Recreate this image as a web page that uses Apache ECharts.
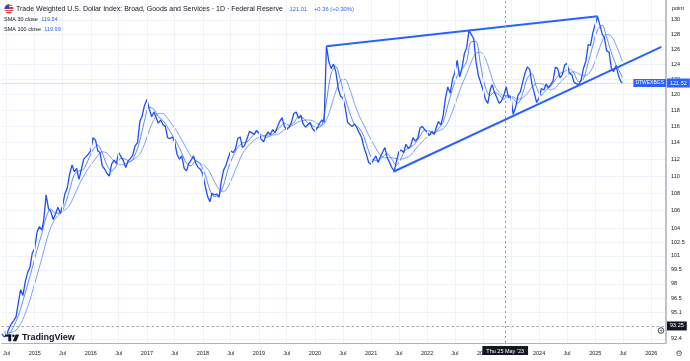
<!DOCTYPE html>
<html><head><meta charset="utf-8">
<script src="https://cdn.jsdelivr.net/npm/echarts@6/dist/echarts.min.js"></script>
<style>html,body{margin:0;padding:0;background:#fff}#c{width:690px;height:361px}</style>
</head><body><div id="c"></div>
<script>
// ---- data ----
// semi-monthly closes (1st and 16th of each month), starting June 2014
const priceStart = [2014, 6];
const price2014 = [92.9, 92.6, 92.8, 93.4, 93.9, 94.2, 94.6, 96.0, 97.4, 96.8, 98.3, 99.2, 99.8, 101.3];
const price2015 = [101.8, 103.6, 104.2, 103.8, 105.0, 107.8, 106.2, 105.9, 105.0, 105.6, 106.4, 105.7, 106.5, 107.9, 108.6, 110.2, 111.3, 110.5, 110.9, 109.6, 110.8, 112.0, 112.3, 112.6];
const price2016 = [113.0, 114.6, 114.3, 113.0, 112.8, 111.2, 110.8, 110.3, 110.0, 111.4, 111.9, 111.5, 112.8, 112.3, 111.8, 111.0, 111.8, 112.1, 112.5, 113.6, 114.0, 116.6, 117.3, 118.6];
const price2017 = [119.4, 118.2, 117.2, 117.8, 117.6, 116.4, 116.8, 116.2, 116.0, 114.6, 114.5, 114.7, 114.1, 112.6, 112.0, 112.4, 110.9, 110.6, 111.5, 111.9, 112.4, 111.5, 111.0, 110.8];
const price2018 = [110.2, 108.8, 107.6, 107.0, 108.0, 107.8, 107.9, 107.5, 109.4, 110.7, 111.3, 112.2, 113.0, 112.8, 113.2, 114.5, 114.7, 113.4, 113.7, 114.5, 115.4, 115.2, 115.0, 115.5];
const price2019 = [115.2, 114.4, 114.1, 114.9, 115.3, 115.0, 115.6, 115.2, 115.9, 116.6, 117.1, 116.0, 115.6, 115.9, 116.5, 117.6, 117.8, 117.0, 117.4, 116.3, 115.9, 116.2, 116.5, 115.7];
const price2020 = [115.4, 115.8, 116.4, 116.8, 116.5, 126.4, 124.3, 123.4, 124.0, 123.0, 120.8, 119.8, 119.6, 118.4, 116.5, 116.2, 116.0, 116.3, 115.8, 115.2, 114.6, 113.4, 112.6, 111.6];
const price2021 = [111.4, 111.9, 112.4, 111.6, 112.2, 112.8, 113.4, 112.2, 111.6, 111.0, 110.6, 111.8, 112.9, 113.1, 112.8, 113.8, 113.3, 113.6, 114.6, 114.2, 114.5, 115.8, 116.0, 115.6];
const price2022 = [115.3, 114.9, 115.4, 115.0, 115.8, 116.6, 116.2, 117.4, 119.6, 121.0, 120.2, 122.0, 122.9, 124.5, 122.3, 123.4, 125.4, 126.2, 128.5, 128.0, 127.4, 124.3, 122.5, 121.6];
const price2023 = [120.6, 119.4, 118.9, 120.6, 121.3, 120.3, 119.6, 118.9, 119.2, 119.9, 121.0, 119.6, 119.8, 117.5, 118.4, 119.9, 120.4, 121.6, 122.8, 123.6, 123.3, 121.3, 120.2, 119.0];
const price2024 = [119.6, 120.8, 120.6, 121.4, 120.9, 121.3, 121.8, 123.6, 123.4, 122.2, 122.6, 123.9, 124.1, 122.8, 122.6, 121.6, 121.4, 121.3, 121.9, 123.4, 124.4, 126.6, 126.5, 128.2];
const price2025 = [129.4, 130.5, 129.2, 128.0, 127.6, 125.8, 125.6, 123.4, 123.0, 123.8, 122.5, 121.7];
const lastClose = ['2025-06-27', 121.52];

// moving averages, mid-month values starting June 2014
const smaStart = [2014, 6];
const sma30 = [93.0, 92.9, 93.6, 94.7, 96.2, 97.9, 99.65,
  101.6, 103.35, 105.2, 106.2, 105.7, 105.7, 106.6, 108.3, 110.15, 110.6, 110.8, 111.9,
  113.1, 113.7, 112.8, 111.3, 110.6, 111.2, 112.1, 112.0, 111.7, 112.5, 114.2, 116.6,
  118.4, 118.15, 117.25, 116.75, 115.9, 114.95, 114.0, 112.8, 111.5, 111.2, 111.8, 111.4,
  110.2, 108.4, 107.6, 107.8, 108.9, 110.9, 112.3, 113.4, 113.95, 114.1, 114.7, 115.3,
  115.0, 114.65, 114.8, 115.3, 115.8, 116.4, 116.15, 116.4, 117.2, 117.1, 116.45, 116.1,
  115.85, 116.1, 119.0, 122.7, 123.7, 121.9, 119.65, 117.7, 116.25, 115.8, 114.75, 113.05,
  111.9, 111.85, 112.25, 112.65, 112.05, 111.25, 112.1, 113.15, 113.4, 113.9, 114.8, 115.5,
  115.45, 115.15, 115.7, 116.5, 118.55, 120.7, 122.4, 123.3, 124.3, 127.0, 127.05, 123.95,
  121.0, 119.9, 120.3, 120.0, 119.4, 119.9, 119.5, 118.9, 120.1, 122.1, 122.75, 120.95,
  119.9, 120.6, 121.05, 121.9, 122.75, 123.0, 123.35, 122.8, 121.7, 122.0, 124.1, 126.4,
  128.6, 129.25, 127.65, 125.6, 123.95, 122.75];
const sma30Last = 122.2;
const sma100 = [93.16, 93.04, 93.12, 93.51, 94.34, 95.59, 97.11,
  98.85, 100.64, 102.46, 104.1, 105.11, 105.69, 106.05, 106.57, 107.69, 108.91, 109.96, 110.87,
  111.61, 112.4, 112.9, 112.74, 112.11, 111.48, 111.31, 111.48, 111.74, 112.07, 112.58, 113.74,
  115.42, 116.83, 117.6, 117.63, 117.01, 116.21, 115.39, 114.4, 113.29, 112.36, 111.83, 111.49,
  111.17, 110.46, 109.41, 108.5, 108.17, 108.79, 109.98, 111.37, 112.64, 113.43, 114.03, 114.5,
  114.77, 114.91, 114.94, 114.94, 115.14, 115.58, 115.91, 116.19, 116.54, 116.73, 116.8, 116.72,
  116.38, 116.12, 116.77, 118.42, 120.38, 121.83, 121.98, 120.73, 118.86, 117.35, 116.13, 114.97,
  113.88, 112.88, 112.25, 112.15, 112.19, 112.05, 112.01, 112.14, 112.47, 113.14, 113.81, 114.39,
  114.91, 115.21, 115.44, 115.7, 116.48, 117.86, 119.54, 121.23, 122.68, 124.26, 125.42, 125.59,
  124.76, 122.98, 121.28, 120.3, 119.89, 119.91, 119.71, 119.43, 119.59, 120.14, 120.96, 121.47,
  121.43, 121.05, 120.63, 120.86, 121.58, 122.18, 122.76, 122.98, 122.72, 122.46, 122.64, 123.56,
  125.28, 127.09, 127.99, 127.78, 126.61, 124.99];
const sma100Last = 124.3;

// drawn trend lines [date, value]
const trendTop = [['2020-03-16', 126.4], ['2025-01-16', 130.5]];
const trendLow = [['2021-05-26', 110.5], ['2026-03-08', 126.3]];

// crosshair
const crossDate = '2023-05-25', crossDateLabel = "Thu 25 May '23", crossValue = 93.25;

// axes
const yTickLabels = ['130','128','126','124','122','120','118','116','114','112','110','108','106','104','102.5','101','99.5','98','96.5','95.1','93.7','92.4'];
const yMin = 92.0, yMax = 132.8;
const xMin = '2014-05-31', xMax = '2026-04-07';
const gridYears = [2014, 2026]; // vertical grid every Jan / Jul in this span
const monthNames = ['Jan','Feb','Mar','Apr','May','Jun','Jul','Aug','Sep','Oct','Nov','Dec'];

// ---- build ----
const L = Math.log;
const pad = n => (n < 10 ? '0' : '') + n;
const priceAll = [].concat(price2014, price2015, price2016, price2017, price2018, price2019,
  price2020, price2021, price2022, price2023, price2024, price2025);
const priceData = [];
{
  let y = priceStart[0], m = priceStart[1], h = 0;
  priceAll.forEach(v => {
    priceData.push([y + '-' + pad(m) + '-' + (h ? '16' : '01'), L(v)]);
    if (h) { h = 0; m++; if (m > 12) { m = 1; y++; } } else h = 1;
  });
  priceData.push([lastClose[0], L(lastClose[1])]);
}
function monthly(arr, last) {
  const out = [];
  let y = smaStart[0], m = smaStart[1];
  arr.forEach(v => { out.push([y + '-' + pad(m) + '-15', L(v)]); m++; if (m > 12) { m = 1; y++; } });
  out.push([lastClose[0], L(last)]);
  return out;
}
const sma30Data = monthly(sma30, sma30Last);
const sma100Data = monthly(sma100, sma100Last);
const yTickVals = yTickLabels.map(s => L(parseFloat(s)));
const vGrid = [];
for (let y = gridYears[0]; y <= gridYears[1]; y++) {
  vGrid.push({ xAxis: y + '-01-01' });
  vGrid.push({ xAxis: y + '-07-01' });
}

const FONT = 'Liberation Sans, Arial, sans-serif';
const blue = '#2962ff';
const trendStyle = { color: blue, width: 2, type: 'solid' };

const chart = echarts.init(document.getElementById('c'), null, { renderer: 'canvas' });
chart.setOption({
  animation: false,
  backgroundColor: '#ffffff',
  textStyle: { fontFamily: FONT },
  grid: { left: 0, right: 24, top: 0, bottom: 18, containLabel: false },
  xAxis: {
    type: 'time', min: xMin, max: xMax,
    minInterval: 170 * 86400000, maxInterval: 182 * 86400000,
    axisLine: { show: true, lineStyle: { color: '#b2b5be', width: 1 } },
    axisTick: { show: false },
    splitLine: { show: false },
    axisLabel: {
      fontSize: 5.5, color: '#131722', margin: 7, showMinLabel: false, showMaxLabel: false,
      formatter: function (v) { const d = new Date(v); return d.getMonth() === 0 ? String(d.getFullYear()) : monthNames[d.getMonth()]; }
    }
  },
  yAxis: {
    type: 'value', position: 'right', min: L(yMin), max: L(yMax), scale: true,
    axisLine: { show: true, lineStyle: { color: '#a9acb5', width: 1.5 } },
    axisTick: { show: false, customValues: yTickVals },
    splitLine: { show: true, lineStyle: { color: '#eef2fa', width: 1 } },
    axisLabel: {
      customValues: yTickVals, fontSize: 5.5, color: '#131722', margin: 5,
      formatter: function (v) {
        let best = 0, bd = 1e9;
        yTickVals.forEach((t, i) => { const d = Math.abs(t - v); if (d < bd) { bd = d; best = i; } });
        return yTickLabels[best];
      }
    }
  },
  series: [
    {
      name: 'grid', type: 'line', data: [], z: 1, silent: true,
      markLine: { silent: true, symbol: ['none', 'none'], animation: false, label: { show: false },
        lineStyle: { color: '#eef2fa', width: 1, type: 'solid' }, data: vGrid }
    },
    {
      name: 'SMA 100', type: 'line', data: sma100Data, showSymbol: false, symbol: 'none', smooth: 0.3,
      lineStyle: { width: 0.8, color: '#5a86fb' }, z: 2, silent: true
    },
    {
      name: 'SMA 30', type: 'line', data: sma30Data, showSymbol: false, symbol: 'none', smooth: 0.3,
      lineStyle: { width: 0.8, color: '#3a6cf8' }, z: 2, silent: true
    },
    {
      name: 'DTWEXBGS', type: 'line', data: priceData, showSymbol: false, symbol: 'none',
      lineStyle: { width: 1.3, color: '#1f4ff0' }, z: 3, silent: true,
      markLine: {
        silent: true, symbol: ['none', 'none'], animation: false,
        data: [
          [{ coord: [trendTop[0][0], L(trendTop[0][1])], lineStyle: trendStyle, label: { show: false } },
           { coord: [trendTop[1][0], L(trendTop[1][1])] }],
          [{ coord: [trendLow[0][0], L(trendLow[0][1])], lineStyle: trendStyle, label: { show: false } },
           { coord: [trendLow[1][0], L(trendLow[1][1])] }],
          { yAxis: L(lastClose[1]), lineStyle: { color: 'rgba(41,98,255,0.18)', width: 1, type: 'solid' },
            label: { show: true, position: 'end', distance: 1, formatter: lastClose[1].toFixed(2),
              backgroundColor: blue, color: '#fff', fontSize: 5.5, padding: [2, 3, 1, 3], fontFamily: FONT } },
          { yAxis: L(lastClose[1]), lineStyle: { color: 'rgba(0,0,0,0)', width: 0 },
            label: { show: true, position: 'insideEnd', distance: 0, formatter: 'DTWEXBGS',
              backgroundColor: blue, color: '#fff', fontSize: 5, padding: [2, 2, 1, 2], fontFamily: FONT } },
          { xAxis: crossDate, lineStyle: { color: '#9598a1', width: 1, type: [2, 3] },
            label: { show: true, position: 'start', distance: 3, formatter: crossDateLabel,
              backgroundColor: '#131722', color: '#fff', fontSize: 5.5, padding: [2, 4, 1, 4], fontFamily: FONT } },
          { yAxis: L(crossValue), lineStyle: { color: '#9598a1', width: 1, type: [2, 3] },
            label: { show: true, position: 'end', distance: 1, formatter: crossValue.toFixed(2),
              backgroundColor: '#131722', color: '#fff', fontSize: 5.5, padding: [2, 3, 1, 3], fontFamily: FONT } }
        ]
      }
    }
  ],
  graphic: [
    { type: 'circle', shape: { cx: 9, cy: 9, r: 4.5 }, z: 10,
      style: { fill: new echarts.graphic.LinearGradient(0, 0, 0, 1, [
        { offset: 0, color: '#d93a3a' }, { offset: 0.15, color: '#d93a3a' }, { offset: 0.15, color: '#ffffff' },
        { offset: 0.3, color: '#ffffff' }, { offset: 0.3, color: '#d93a3a' }, { offset: 0.45, color: '#d93a3a' },
        { offset: 0.45, color: '#ffffff' }, { offset: 0.6, color: '#ffffff' }, { offset: 0.6, color: '#d93a3a' },
        { offset: 0.75, color: '#d93a3a' }, { offset: 0.75, color: '#ffffff' }, { offset: 0.88, color: '#ffffff' },
        { offset: 0.88, color: '#d93a3a' }, { offset: 1, color: '#d93a3a' }]) } },
    { type: 'sector', shape: { cx: 9, cy: 9, r: 4.5, r0: 0, startAngle: Math.PI, endAngle: Math.PI * 1.5 }, z: 11,
      style: { fill: '#2c4a9e' } },
    { type: 'text', x: 16, y: 9, z: 10, style: {
      text: '{t|Trade Weighted U.S. Dollar Index: Broad, Goods and Services · 1D · Federal Reserve}  {v|121.01}  {v|+0.36 (+0.30%)}',
      verticalAlign: 'middle', rich: {
        t: { fontSize: 7, fill: '#131722', fontFamily: FONT },
        v: { fontSize: 5.8, fill: blue, fontFamily: FONT } } } },
    { type: 'text', x: 4, y: 19.5, z: 10, style: {
      text: '{t|SMA 30 close} {v|119.54}', verticalAlign: 'middle', rich: {
        t: { fontSize: 5.5, fill: '#131722', fontFamily: FONT }, v: { fontSize: 5.5, fill: blue, fontFamily: FONT } } } },
    { type: 'text', x: 4, y: 29.5, z: 10, style: {
      text: '{t|SMA 100 close} {v|119.99}', verticalAlign: 'middle', rich: {
        t: { fontSize: 5.5, fill: '#131722', fontFamily: FONT }, v: { fontSize: 5.5, fill: blue, fontFamily: FONT } } } },
    { type: 'text', x: 672, y: 8, z: 10, style: { text: 'point', fontSize: 5.5, fill: '#131722', fontFamily: FONT, verticalAlign: 'middle' } },
    // TradingView watermark
    { type: 'rect', shape: { x: 5, y: 334.5, width: 6.2, height: 2.2 }, z: 10, style: { fill: '#131722' } },
    { type: 'rect', shape: { x: 8.3, y: 334.5, width: 2.9, height: 6.8 }, z: 10, style: { fill: '#131722' } },
    { type: 'circle', shape: { cx: 13.4, cy: 335.7, r: 1.25 }, z: 10, style: { fill: '#131722' } },
    { type: 'polygon', shape: { points: [[15.6, 334.5], [19.2, 334.5], [16.4, 341.3], [12.8, 341.3]] }, z: 10, style: { fill: '#131722' } },
    { type: 'text', x: 22, y: 338, z: 10, style: { text: 'TradingView', fontSize: 9, fontWeight: 'bold', fill: '#131722', fontFamily: FONT, verticalAlign: 'middle' } },
    // crosshair plus icon & settings gear
    { type: 'circle', shape: { cx: 661, cy: 330.5, r: 2.8 }, z: 12, style: { fill: '#ffffff', stroke: '#131722', lineWidth: 0.8 } },
    { type: 'text', x: 661, y: 330.7, z: 13, style: { text: '+', fontSize: 5.5, fill: '#131722', align: 'center', verticalAlign: 'middle', fontFamily: FONT } },
    { type: 'text', x: 679, y: 354, z: 10, style: { text: '⚙', fontSize: 8, fill: '#555a66', align: 'center', verticalAlign: 'middle', fontFamily: 'DejaVu Sans' } }
  ]
});
</script>
</body></html>
